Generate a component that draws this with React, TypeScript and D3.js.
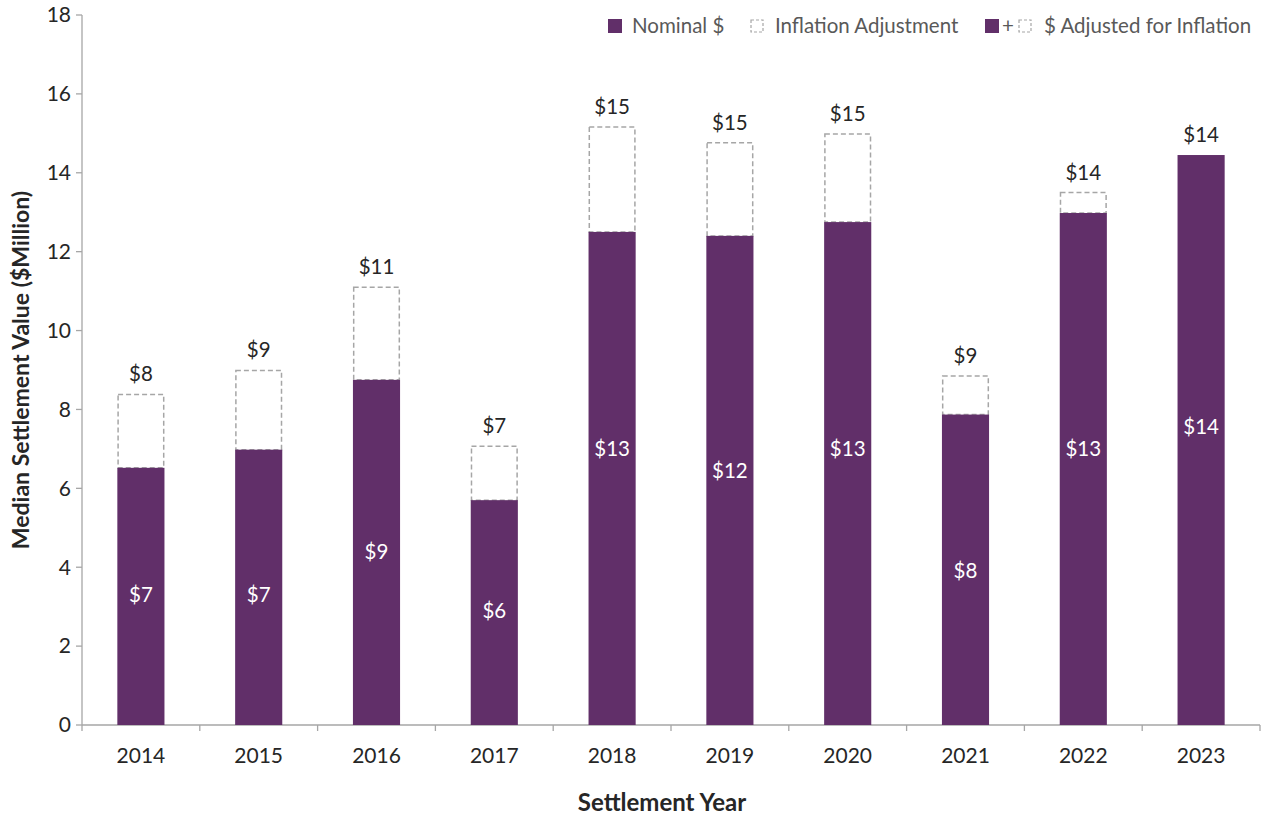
import * as React from "react";
import * as d3 from "d3";

const years = ["2014", "2015", "2016", "2017", "2018", "2019", "2020", "2021", "2022", "2023"];
const nominal = [6.52, 6.98, 8.75, 5.7, 12.5, 12.4, 12.75, 7.87, 12.98, 14.45];
const adjusted = [8.38, 8.99, 11.1, 7.07, 15.16, 14.76, 14.98, 8.85, 13.5, 14.45];
const nominalLabels = ["$7", "$7", "$9", "$6", "$13", "$12", "$13", "$8", "$13", "$14"];
const adjustedLabels = ["$8", "$9", "$11", "$7", "$15", "$15", "$15", "$9", "$14", "$14"];
// where the inner label sits, in $M
const innerLabelAt = [3.3, 3.3, 4.4, 2.9, 7.0, 6.45, 7.0, 3.9, 7.0, 7.55];
const yTicks = [0, 2, 4, 6, 8, 10, 12, 14, 16, 18];

const purple = "#612f69";
const axisGray = "#a6a6a6";
const textColor = "#262626";
const font = "Lato, 'Open Sans', sans-serif";

export default function App() {
    let width = 1267;
    let height = 821;
    let left = 82, right = 1260, top = 15, bottom = 725;

    let x = d3.scaleBand().domain(years).range([left, right]).paddingInner(0.6).paddingOuter(0.3);
    let band = (right - left) / years.length;
    let y = d3.scaleLinear().domain([0, 18]).range([bottom, top]);

    return (
        <svg width={width} height={height} style={{ position: "absolute", left: 0, top: 0 }} fontFamily={font}>
            {/* y axis */}
            <line x1={left} x2={left} y1={top} y2={bottom} stroke={axisGray} strokeWidth={1.3} />
            {yTicks.map(t => (
                <g key={t}>
                    <line x1={left - 6} x2={left} y1={y(t)} y2={y(t)} stroke={axisGray} strokeWidth={1.3} />
                    <text x={left - 11} y={y(t)} dy="0.35em" textAnchor="end" fontSize={21} fill={textColor}>{t}</text>
                </g>
            ))}
            {/* x axis */}
            <line x1={left} x2={right} y1={bottom} y2={bottom} stroke={axisGray} strokeWidth={1.3} />
            {d3.range(years.length + 1).map(i => (
                <line key={i} x1={left + i * band} x2={left + i * band} y1={bottom} y2={bottom + 6} stroke={axisGray} strokeWidth={1.3} />
            ))}
            {years.map(yr => (
                <text key={yr} x={(x(yr) as number) + x.bandwidth() / 2} y={bottom + 38} textAnchor="middle" fontSize={21} fill={textColor}>{yr}</text>
            ))}

            {/* bars */}
            {years.map((yr, i) => {
                let bx = x(yr) as number;
                let bw = x.bandwidth();
                let cx = bx + bw / 2;
                let hasAdj = adjusted[i] > nominal[i];
                return (
                    <g key={yr}>
                        {hasAdj && (
                            <rect x={bx + 0.75} y={y(adjusted[i])} width={bw - 1.5} height={y(nominal[i]) - y(adjusted[i])}
                                fill="white" stroke={axisGray} strokeWidth={1.5} strokeDasharray="5,3" />
                        )}
                        <rect x={bx} y={y(nominal[i])} width={bw} height={bottom - y(nominal[i])} fill={purple} />
                        <text x={cx} y={y(innerLabelAt[i])} dy="0.35em" textAnchor="middle" fontSize={20.5} fill="white">{nominalLabels[i]}</text>
                        <text x={cx} y={y(adjusted[i]) - 13} textAnchor="middle" fontSize={20.5} fill={textColor}>{adjustedLabels[i]}</text>
                    </g>
                );
            })}

            {/* legend */}
            <g fontSize={20.5} fill="#595959">
                <rect x={608} y={19} width={14} height={14} fill={purple} />
                <text x={632} y={33}>Nominal $</text>
                <rect x={751} y={20} width={12} height={12} fill="white" stroke={axisGray} strokeWidth={1.2} strokeDasharray="3,2" />
                <text x={775} y={33}>Inflation Adjustment</text>
                <rect x={985} y={19} width={14} height={14} fill={purple} />
                <text x={1002} y={33}>+</text>
                <rect x={1019} y={20} width={12} height={12} fill="white" stroke={axisGray} strokeWidth={1.2} strokeDasharray="3,2" />
                <text x={1044} y={33}>$ Adjusted for Inflation</text>
            </g>

            {/* axis titles */}
            <text x={662} y={811} textAnchor="middle" fontSize={24} fontWeight="bold" fill={textColor}>Settlement Year</text>
            <text transform={`translate(29, ${(top + bottom) / 2}) rotate(-90)`} textAnchor="middle" fontSize={23} fontWeight="bold" fill={textColor}>Median Settlement Value ($Million)</text>
        </svg>
    );
}
